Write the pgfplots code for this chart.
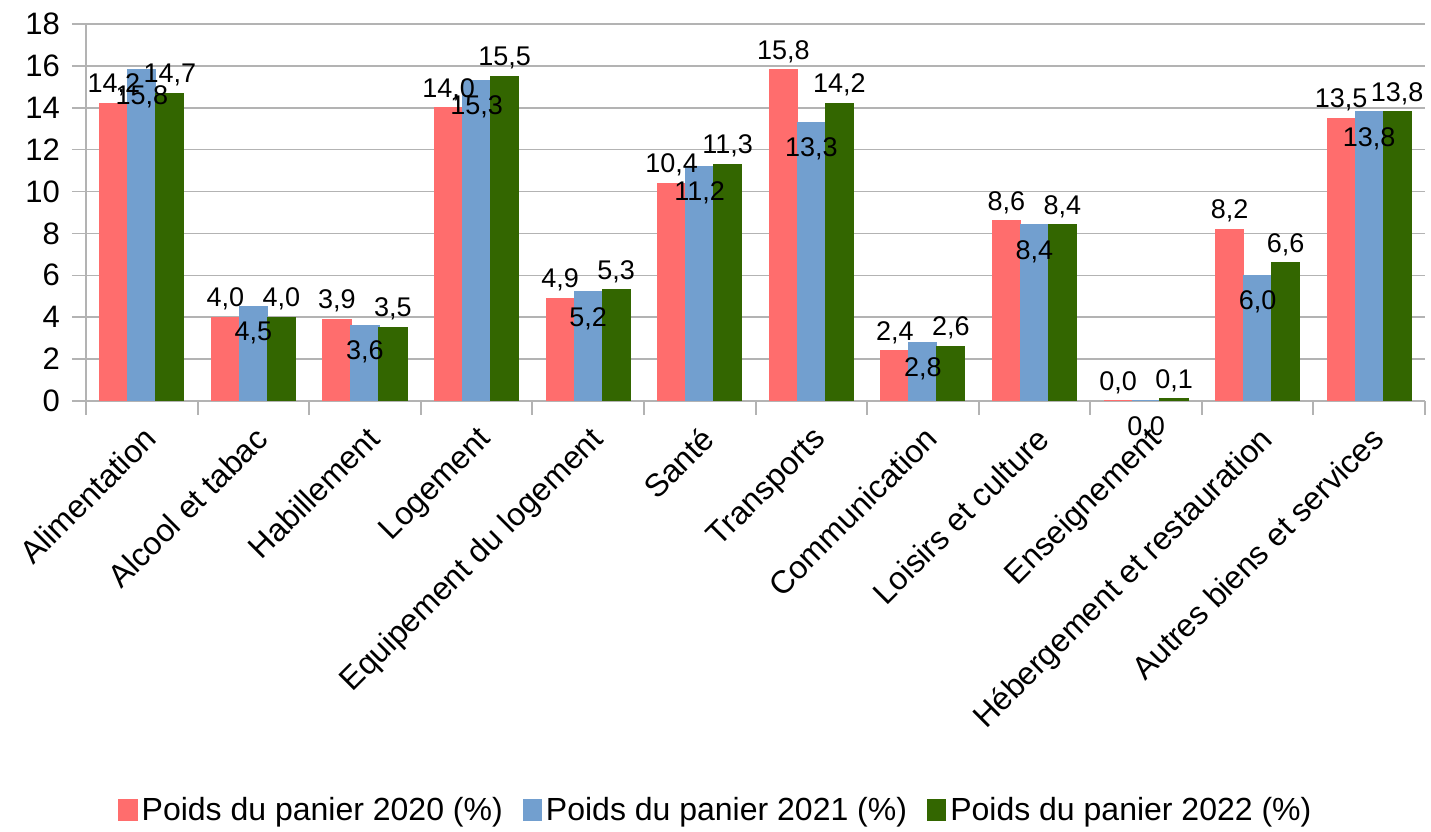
\documentclass[border=0pt]{standalone}
\usepackage{pgfplots}
\pgfplotsset{compat=1.18}
\usepackage{fontspec}
\setmainfont{Liberation Sans}
\definecolor{c20}{HTML}{FF6D6D}
\definecolor{c21}{HTML}{729FCF}
\definecolor{c22}{HTML}{336600}
\definecolor{gridc}{HTML}{B3B3B3}
\begin{document}
\begin{tikzpicture}
\begin{axis}[
 name=ax,
 scale only axis,
 width=669.5pt, height=188.5pt,
 ymin=0, ymax=18, ytick={0,2,...,18},
 xmin=-0.5, xmax=11.5,
 ybar=0pt, bar width=14pt,
 xtick={0,...,11},
 xticklabels={Alimentation, Alcool et tabac, Habillement, Logement, Equipement du logement, Santé, Transports, Communication, Loisirs et culture, Enseignement, Hébergement et restauration, Autres biens et services},
 xticklabel style={rotate=45, anchor=north east, font=\fontsize{16}{19}\selectfont},
 yticklabel style={font=\fontsize{15.5}{18}\selectfont, xshift=-2.5pt},
 major x tick style={draw=none},
 minor xtick={-0.5,0.5,...,11.5},
 minor x tick style={draw=gridc, line width=1pt},
 minor tick length=7pt, major tick length=7pt,
 tick align=outside,
 ymajorgrids, grid style={gridc, line width=0.8pt},
 axis x line*=bottom, axis y line*=left,
 axis line style={gridc, line width=0.8pt, -},
 y tick style={gridc, line width=0.8pt},
 /pgf/number format/assume math mode=true,
 nodes near coords={\pgfmathprintnumber[fixed, fixed zerofill, precision=1, use comma, assume math mode=true]{\pgfplotspointmeta}},
 nodes near coords style={font=\fontsize{13.5}{16}\selectfont, text=black},
 legend style={at={(0.4712,-1.085)}, anchor=center, legend columns=3, draw=none, font=\fontsize{16}{19}\selectfont, /tikz/every even column/.append style={column sep=8pt}},
 legend image code/.code={\fill[#1] (0pt,-5pt) rectangle (9pt,5pt);},
]
\addplot[fill=c20, draw=c20, line width=0.6pt] coordinates {(0,14.2) (1,4.0) (2,3.9) (3,14.0) (4,4.9) (5,10.4) (6,15.8) (7,2.4) (8,8.6) (9,0.0) (10,8.2) (11,13.5)};
\addplot[fill=c21, draw=c21, line width=0.6pt, nodes near coords align={below}, nodes near coords style={yshift=-4pt}] coordinates {(0,15.8) (1,4.5) (2,3.6) (3,15.3) (4,5.2) (5,11.2) (6,13.3) (7,2.8) (8,8.4) (9,0.0) (10,6.0) (11,13.8)};
\addplot[fill=c22, draw=c22, line width=0.6pt] coordinates {(0,14.7) (1,4.0) (2,3.5) (3,15.5) (4,5.3) (5,11.3) (6,14.2) (7,2.6) (8,8.4) (9,0.1) (10,6.6) (11,13.8)};
\legend{Poids du panier 2020 (\%), Poids du panier 2021 (\%), Poids du panier 2022 (\%)}
\end{axis}
\pgfresetboundingbox
\path[use as bounding box] ([shift={(-43pt,-215.5pt)}]ax.south west) rectangle ([shift={(3pt,12pt)}]ax.north east);
\end{tikzpicture}
\end{document}
